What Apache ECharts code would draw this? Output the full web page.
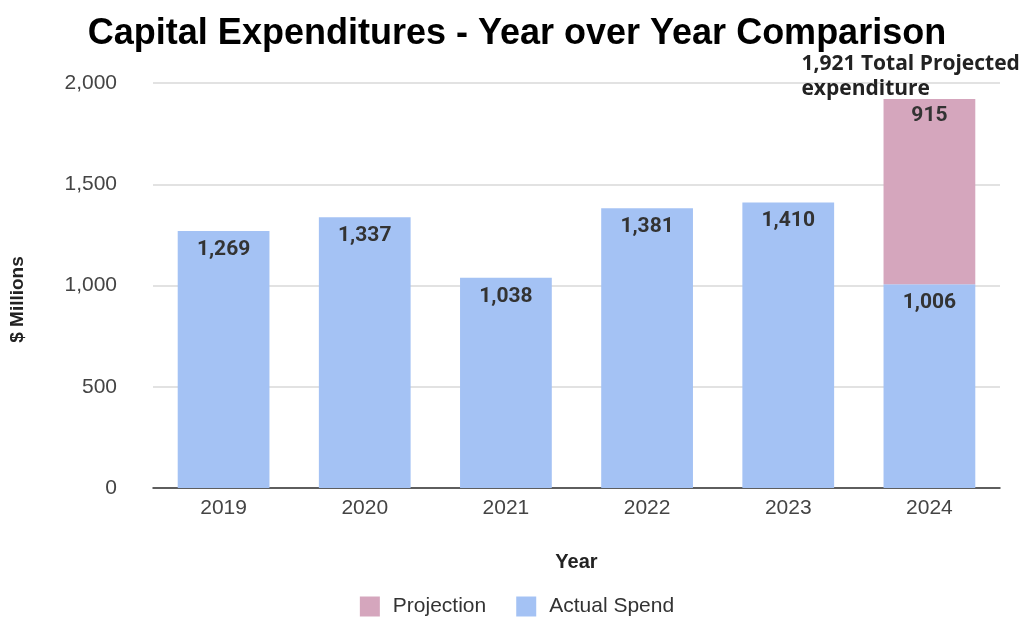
<!DOCTYPE html>
<html><head><meta charset="utf-8">
<script src="https://cdn.jsdelivr.net/npm/echarts@6/dist/echarts.min.js"></script>
<style>html,body{margin:0;padding:0;background:#fff}#c{width:1034px;height:617px}</style>
</head><body><div id="c"></div>
<script>
const years = ['2019','2020','2021','2022','2023','2024'];
const actualSpend = [1269, 1337, 1038, 1381, 1410, 1006];
const projection = [null, null, null, null, null, 915];
const totalProjected = 1921;
const yTicks = [0, 500, 1000, 1500, 2000];

const fmt = v => v.toLocaleString('en-US');
const chart = echarts.init(document.getElementById('c'));
chart.setOption({
  animation: false,
  title: {
    text: 'Capital Expenditures - Year over Year Comparison',
    left: 'center', top: 11,
    textStyle: { fontFamily: 'Liberation Sans', fontSize: 36, fontWeight: 'bold', color: '#000' }
  },
  legend: {
    data: ['Projection', 'Actual Spend'],
    top: 591, left: 'center',
    icon: 'rect', itemWidth: 20, itemHeight: 20, itemGap: 30,
    textStyle: { fontFamily: 'Liberation Sans', fontSize: 21, color: '#333', padding: [0, 0, 0, 8] }
  },
  grid: { left: 153, right: 34, top: 83, bottom: 129 },
  xAxis: {
    type: 'category', data: years,
    name: 'Year', nameLocation: 'middle', nameGap: 64,
    nameTextStyle: { fontFamily: 'Liberation Sans', fontSize: 20, fontWeight: 'bold', color: '#222' },
    axisTick: { show: false },
    axisLine: { lineStyle: { color: '#333', width: 1.5 } },
    axisLabel: { fontFamily: 'Liberation Sans', fontSize: 21, color: '#444', margin: 10 }
  },
  yAxis: {
    type: 'value', min: yTicks[0], max: yTicks[yTicks.length-1], interval: 500,
    name: '$ Millions', nameLocation: 'middle', nameGap: 126,
    nameTextStyle: { fontFamily: 'Liberation Sans', fontSize: 19, fontWeight: 'bold', color: '#222',
      padding: [0, 28, 0, 0] },
    axisLabel: { fontFamily: 'Liberation Sans', fontSize: 21, color: '#444', margin: 36,
      formatter: v => fmt(v) },
    splitLine: { lineStyle: { color: '#d9d9d9', width: 1.5 } }
  },
  series: [
    {
      name: 'Actual Spend', type: 'bar', stack: 'total', data: actualSpend,
      barWidth: '65%',
      itemStyle: { color: '#a4c2f4' },
      label: { show: true, position: 'insideTop', distance: 8,
        fontFamily: 'Roboto', fontSize: 21, fontWeight: 'bold', color: '#333',
        formatter: p => fmt(p.value) }
    },
    {
      name: 'Projection', type: 'bar', stack: 'total', data: projection,
      itemStyle: { color: '#d5a6bd' },
      label: { show: true, position: 'insideTop', distance: 6,
        fontFamily: 'Roboto', fontSize: 21, fontWeight: 'bold', color: '#333',
        formatter: p => p.value == null ? '' : fmt(p.value) },
      markPoint: {
        symbol: 'rect', symbolSize: 1, itemStyle: { color: 'rgba(0,0,0,0)' },
        data: [{ coord: ['2024', totalProjected] }],
        label: { show: true, position: 'top', distance: 0, align: 'left', offset: [-128, 3],
          fontFamily: 'Open Sans', fontSize: 21, fontWeight: 'bold', color: '#222', lineHeight: 25,
          formatter: fmt(totalProjected) + ' Total Projected\nexpenditure' }
      }
    }
  ]
});
</script></body></html>
